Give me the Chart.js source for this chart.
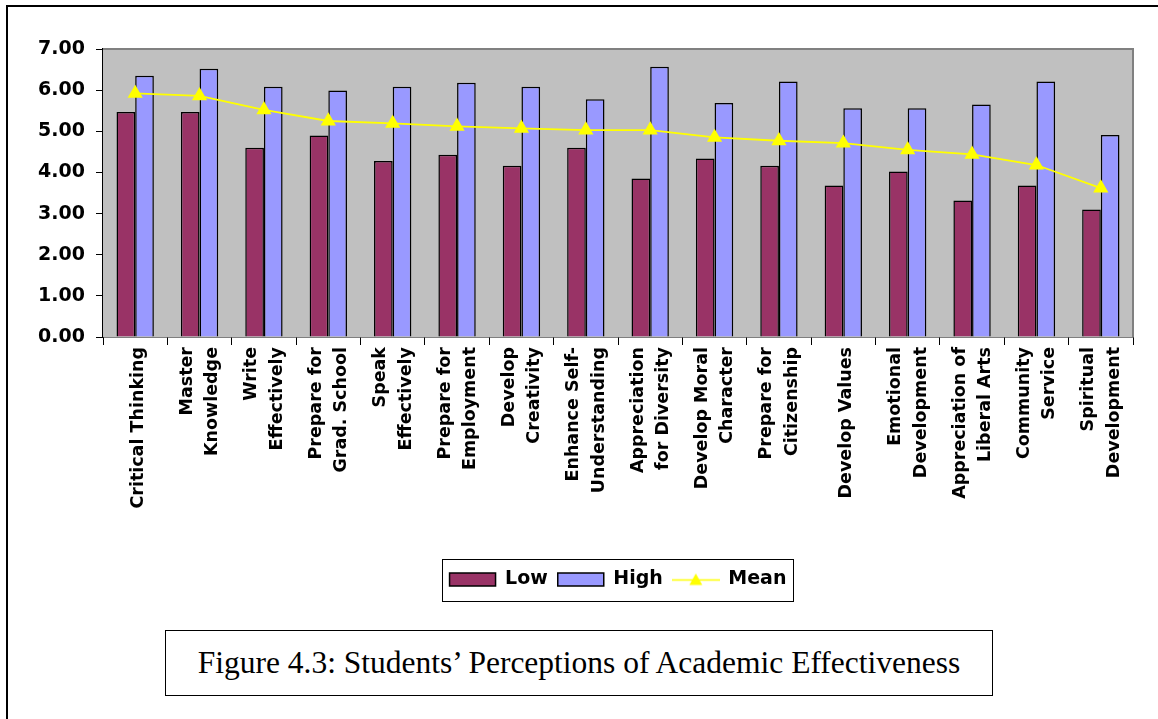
<!DOCTYPE html>
<html>
<head>
<meta charset="utf-8">
<script src="https://cdn.jsdelivr.net/npm/chart.js@4"></script>
<style>
  html, body { margin: 0; padding: 0; background: #fff; }
  body { width: 1158px; height: 719px; position: relative; overflow: hidden; }
  #frame { position: absolute; left: 6px; top: 5px; width: 1170px; height: 730px; border: 2px solid #000; }
  #wrap { position: absolute; left: 0; top: 0; width: 1158px; height: 719px; }
  #caption {
    position: absolute; left: 165px; top: 630px; width: 826px; height: 64px;
    border: 1.5px solid #000; background: #fff;
    font-family: "Liberation Serif", serif; font-size: 31.5px; color: #000;
    display: flex; align-items: center; justify-content: center;
  }
</style>
</head>
<body>
<div id="frame"></div>
<div id="wrap"><canvas id="chart"></canvas></div>
<div id="caption">Figure 4.3: Students’ Perceptions of Academic Effectiveness</div>
<script>
// categories and series
const categories = [
  'Critical Thinking', ['Master', 'Knowledge'], ['Write', 'Effectively'], ['Prepare for', 'Grad. School'],
  ['Speak', 'Effectively'], ['Prepare for', 'Employment'], ['Develop', 'Creativity'],
  ['Enhance Self-', 'Understanding'], ['Appreciation', 'for Diversity'], ['Develop Moral', 'Character'],
  ['Prepare for', 'Citizenship'], 'Develop Values', ['Emotional', 'Development'],
  ['Appreciation of', 'Liberal Arts'], ['Community', 'Service'], ['Spiritual', 'Development']
];
const lowValues  = [5.47, 5.47, 4.60, 4.90, 4.28, 4.43, 4.16, 4.60, 3.85, 4.34, 4.16, 3.68, 4.02, 3.32, 3.68, 3.10];
const highValues = [6.35, 6.52, 6.08, 5.99, 6.08, 6.18, 6.08, 5.78, 6.57, 5.69, 6.21, 5.56, 5.56, 5.65, 6.21, 4.91];
const meanValues = [5.92, 5.86, 5.52, 5.25, 5.19, 5.12, 5.07, 5.03, 5.03, 4.85, 4.77, 4.71, 4.55, 4.44, 4.18, 3.62];
const yTickValues = [0, 1, 2, 3, 4, 5, 6, 7];

Chart.defaults.font.family = 'DejaVu Sans';
Chart.defaults.font.weight = 'bold';
Chart.defaults.color = '#000';

// two-line labels sit centred on the category; single-line ones get an empty
// first line and a short line height so they land near the centre too
const LABEL_SHIFT = -12;
const xLabels = categories.map(c => Array.isArray(c) ? c : ['', c]);
const labelFont = ctx => ({
  size: 17.5, weight: 'bold',
  lineHeight: Array.isArray(categories[ctx.index]) ? 1.45 : '15px'
});

// little line+triangle used for the Mean legend item
const meanIcon = document.createElement('canvas');
meanIcon.width = 48; meanIcon.height = 14;
const ic = meanIcon.getContext('2d');
ic.strokeStyle = '#FFFF00'; ic.lineWidth = 1.5;
ic.beginPath(); ic.moveTo(0, 7.5); ic.lineTo(48, 7.5); ic.stroke();
ic.fillStyle = '#FFFF00';
ic.beginPath(); ic.moveTo(24, 1); ic.lineTo(30.5, 12.5); ic.lineTo(17.5, 12.5); ic.closePath(); ic.fill();

// grey plot area with grey top/right edge
const plotArea = {
  id: 'plotArea',
  beforeDatasetsDraw(chart) {
    const { ctx, chartArea: a } = chart;
    ctx.save();
    ctx.fillStyle = '#C0C0C0';
    ctx.fillRect(a.left, a.top, a.right - a.left, a.bottom - a.top);
    ctx.strokeStyle = '#808080';
    ctx.lineWidth = 2;
    ctx.beginPath();
    ctx.moveTo(a.left, a.top); ctx.lineTo(a.right, a.top); ctx.lineTo(a.right, a.bottom);
    ctx.stroke();
    ctx.restore();
  }
};

// center legend under the plot and frame it
const legendFrame = {
  id: 'legendFrame',
  afterLayout(chart) {
    const lg = chart.legend, a = chart.chartArea;
    lg.left = a.left; lg.right = a.right; lg.width = a.right - a.left;
  },
  afterDraw(chart) {
    const boxes = chart.legend.legendHitBoxes;
    if (!boxes || !boxes.length) return;
    const l = Math.min(...boxes.map(b => b.left));
    const r = Math.max(...boxes.map(b => b.left + b.width));
    const cy = boxes[0].top + boxes[0].height / 2;
    const ctx = chart.ctx;
    ctx.save();
    ctx.strokeStyle = '#000';
    ctx.lineWidth = 1;
    ctx.strokeRect(Math.round(l - 8) + 0.5, Math.round(cy - 21) + 0.5, Math.round(r - l + 14), 42);
    ctx.restore();
  }
};

new Chart(document.getElementById('chart'), {
  data: {
    labels: xLabels,
    datasets: [
      { type: 'bar', label: 'Low', data: lowValues, backgroundColor: '#993366', borderColor: '#000', borderWidth: 1.5, order: 1 },
      { type: 'bar', label: 'High', data: highValues, backgroundColor: '#9999FF', borderColor: '#000', borderWidth: 1.5, order: 1 },
      { type: 'line', label: 'Mean', data: meanValues, borderColor: '#FFFF00', backgroundColor: '#FFFF00', borderWidth: 1.8,
        pointStyle: 'triangle', pointRadius: 7, pointBackgroundColor: '#FFFF00', pointBorderColor: '#FFFF00', tension: 0, order: 0 }
    ]
  },
  options: {
    responsive: true,
    maintainAspectRatio: false,
    animation: false,
    layout: { padding: { left: 10, right: 25, top: 49, bottom: 120 } },
    datasets: { bar: { categoryPercentage: 0.58, barPercentage: 1 } },
    scales: {
      x: {
        grid: { offset: true, drawOnChartArea: false, color: '#000', tickLength: 8, tickColor: '#000' },
        border: { color: '#000', width: 1.5 },
        ticks: { autoSkip: false, minRotation: 90, maxRotation: 90, padding: 2, labelOffset: LABEL_SHIFT, font: labelFont },
        afterFit(scale) { scale.height = 223; }
      },
      y: {
        min: 0, max: 7,
        afterBuildTicks(scale) { scale.ticks = yTickValues.map(v => ({ value: v })); },
        grid: { drawOnChartArea: false, color: '#000', tickLength: 7, tickColor: '#000' },
        border: { color: '#000', width: 1.5 },
        ticks: { padding: 11, font: { size: 19, weight: 'bold' }, callback: v => Number(v).toFixed(2) },
        afterFit(scale) { scale.width = 93; }
      }
    },
    plugins: {
      tooltip: { enabled: false },
      legend: {
        position: 'bottom',
        labels: {
          usePointStyle: true, pointStyleWidth: 46, boxHeight: 13, padding: 10,
          font: { size: 19, weight: 'bold' },
          generateLabels: chart => chart.data.datasets.map((ds, i) => ({
            text: ds.label,
            fillStyle: ds.backgroundColor,
            strokeStyle: '#000',
            lineWidth: 1.5,
            pointStyle: ds.type === 'line' ? meanIcon : 'rect',
            datasetIndex: i,
            hidden: false,
            fontColor: '#000'
          }))
        }
      }
    }
  },
  plugins: [plotArea, legendFrame]
});
</script>
</body>
</html>
